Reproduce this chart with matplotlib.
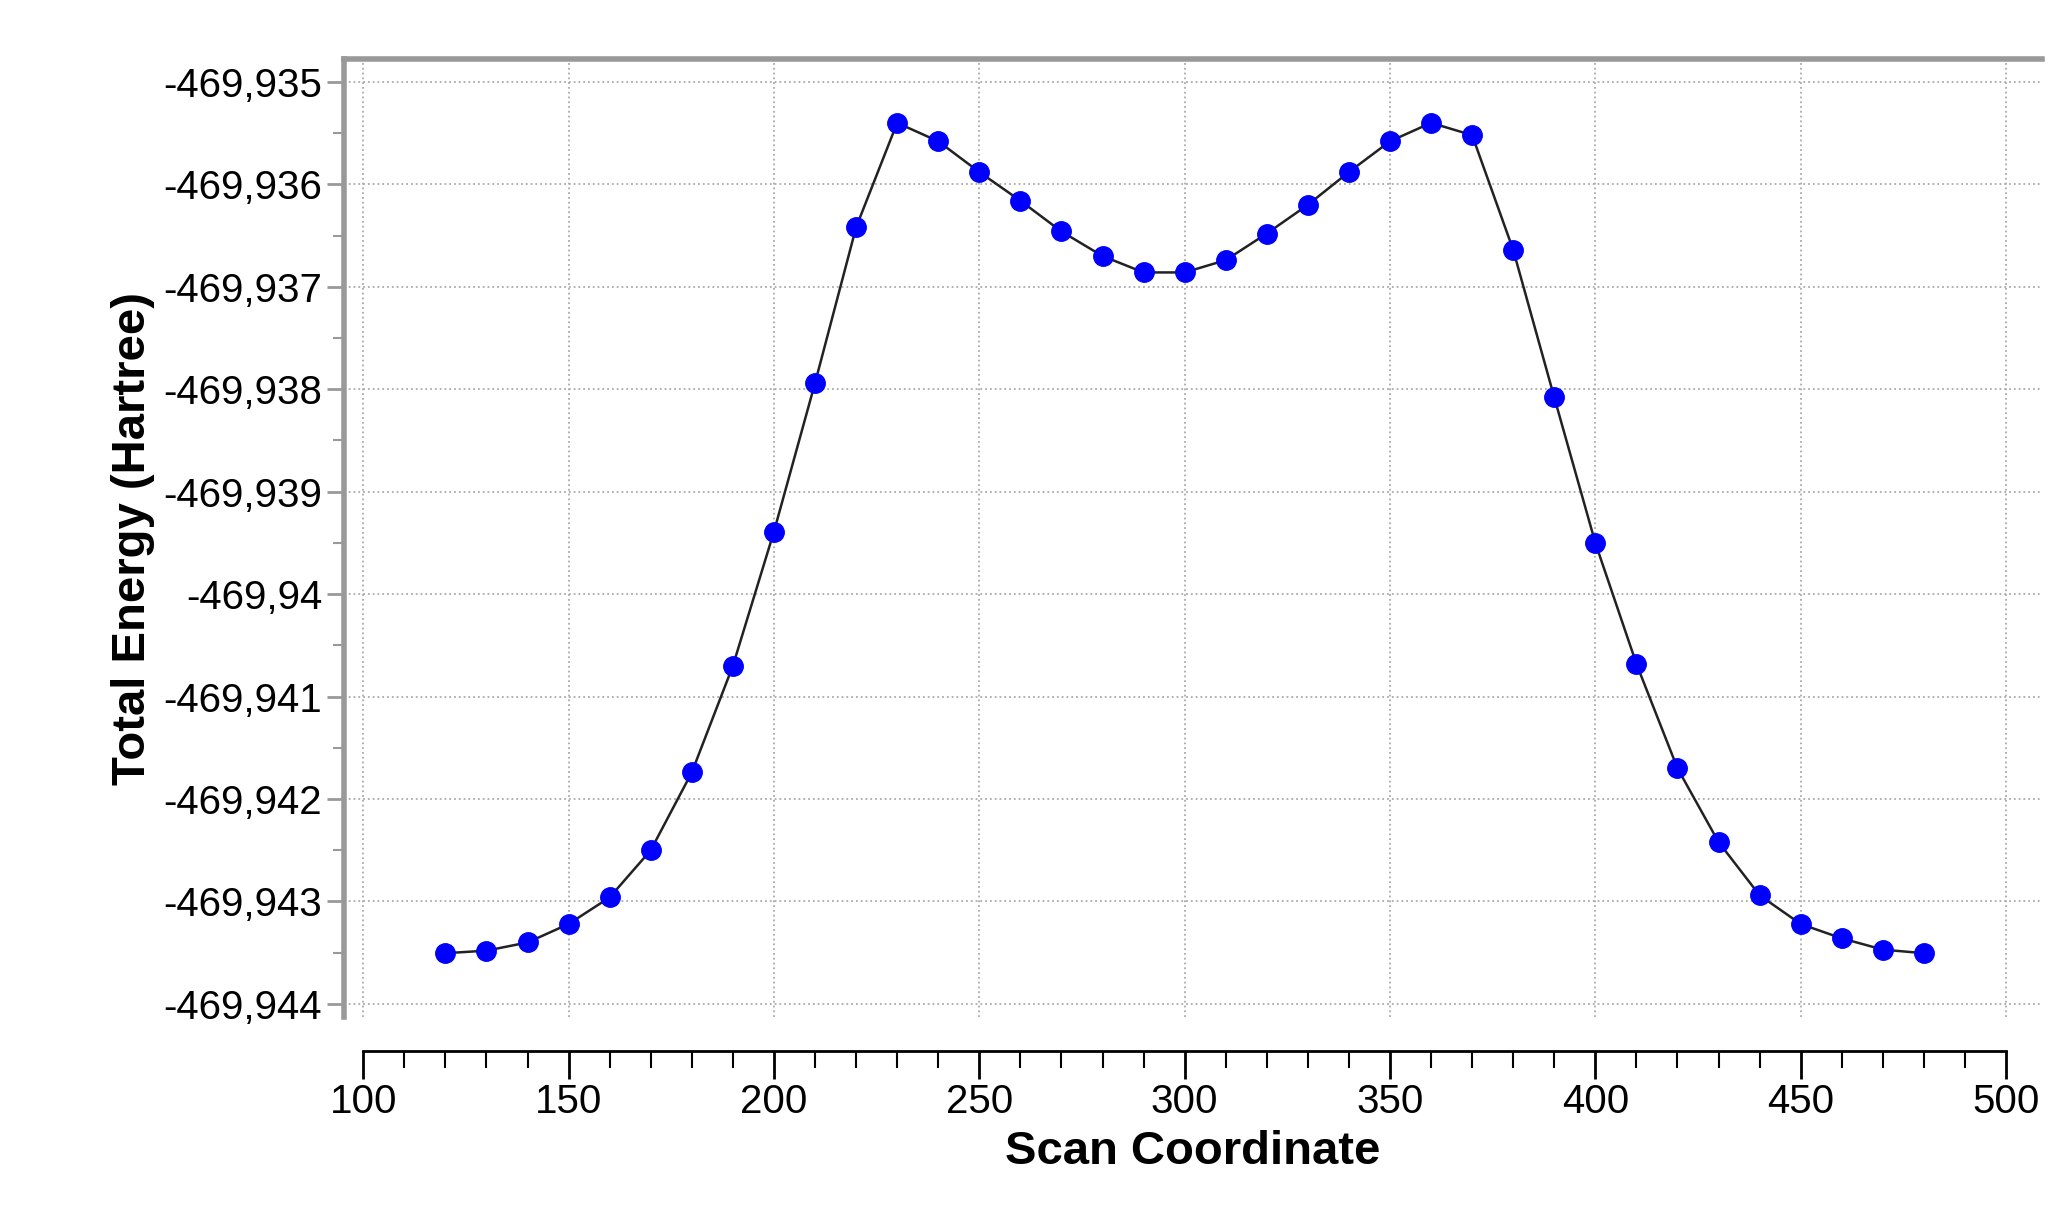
import matplotlib
matplotlib.use("Agg")
import matplotlib.pyplot as plt
from matplotlib.ticker import MultipleLocator, FuncFormatter

plt.rcParams['font.family'] = ['Liberation Sans', 'DejaVu Sans']

scan = [120,130,140,150,160,170,180,190,200,210,220,230,240,250,260,270,280,290,300,
        310,320,330,340,350,360,370,380,390,400,410,420,430,440,450,460,470,480]
offs = [8.505,8.48,8.40,8.22,7.96,7.50,6.74,5.70,4.39,2.94,1.42,0.40,0.58,0.88,1.16,1.46,1.70,1.86,1.86,
        1.74,1.48,1.20,0.88,0.58,0.40,0.52,1.64,3.08,4.50,5.68,6.70,7.42,7.94,8.22,8.36,8.47,8.505]
energy = [-469.935 - o*0.001 for o in offs]

fig = plt.figure(figsize=(20.51, 12.11), dpi=100)
ax = fig.add_axes([0.1675, 0.160, 0.828, 0.791])
ax.plot(scan, energy, color='#222222', lw=1.8, zorder=2)
ax.plot(scan, energy, 'o', color='#0000ff', ms=14, zorder=3)

ax.set_xlim(95.2, 508.7)
ax.set_ylim(-469.94413, -469.93478)
ax.xaxis.set_major_locator(MultipleLocator(50))
ax.xaxis.set_minor_locator(MultipleLocator(10))
ax.yaxis.set_major_locator(MultipleLocator(0.001))
ax.yaxis.set_minor_locator(MultipleLocator(0.0005))

def yfmt(v, p):
    s = f"{v:.3f}".rstrip('0').rstrip('.')
    return s.replace('.', ',')
ax.yaxis.set_major_formatter(FuncFormatter(yfmt))

ax.grid(True, which='major', linestyle=':', color='#aaaaaa', lw=1.3)
ax.spines['right'].set_visible(False)
ax.spines['left'].set_color('#999999'); ax.spines['left'].set_linewidth(4)
ax.spines['top'].set_color('#999999'); ax.spines['top'].set_linewidth(4)
ax.spines['bottom'].set_position(('outward', 24))
ax.spines['bottom'].set_bounds(100, 500)
ax.spines['bottom'].set_linewidth(2)

ax.tick_params(axis='x', which='major', length=20, width=2, labelsize=29, direction='out')
ax.tick_params(axis='x', which='minor', length=12, width=1.5)
ax.tick_params(axis='y', which='major', length=12, width=2, labelsize=29, color='#999999')
ax.tick_params(axis='y', which='minor', length=8, width=1.5, color='#999999')

ax.set_xlabel('Scan Coordinate', fontsize=34, fontweight='bold', labelpad=6)
ax.set_ylabel('Total Energy (Hartree)', fontsize=34, fontweight='bold', labelpad=6)

fig.savefig('out.png', dpi=100, facecolor='white')
